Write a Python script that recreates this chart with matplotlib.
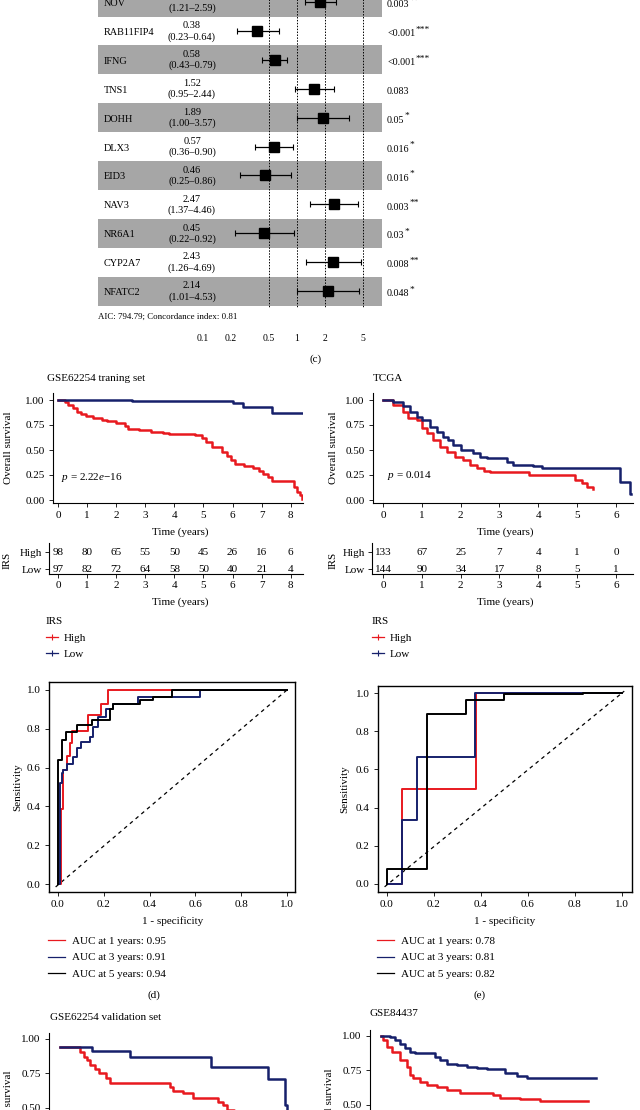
import numpy as np
import matplotlib
matplotlib.use("Agg")
import matplotlib.pyplot as plt
from matplotlib.lines import Line2D

plt.rcParams['font.family'] = ['Liberation Serif', 'DejaVu Serif']
plt.rcParams['font.size'] = 8
plt.rcParams['mathtext.fontset'] = 'custom'
plt.rcParams['mathtext.rm'] = 'Liberation Serif'
plt.rcParams['mathtext.it'] = 'Liberation Serif:italic'

RED = "#E8191F"
NAVY = "#16206B"
BAND = "#a6a6a6"

# (c) multivariate cox forest plot
genes = ["NOV", "RAB11FIP4", "IFNG", "TNS1", "DOHH", "DLX3", "EID3", "NAV3", "NR6A1", "CYP2A7", "NFATC2"]
hr = [1.77, 0.38, 0.58, 1.52, 1.89, 0.57, 0.46, 2.47, 0.45, 2.43, 2.14]
hr_lo = [1.21, 0.23, 0.43, 0.95, 1.00, 0.36, 0.25, 1.37, 0.22, 1.26, 1.01]
hr_hi = [2.59, 0.64, 0.79, 2.44, 3.57, 0.90, 0.86, 4.46, 0.92, 4.69, 4.53]
p_text = ["0.003", "<0.001", "<0.001", "0.083", "0.05", "0.016", "0.016", "0.003", "0.03", "0.008", "0.048"]
p_stars = ["**", "***", "***", "", "*", "*", "*", "**", "*", "**", "*"]
forest_ticks = [0.1, 0.2, 0.5, 1, 2, 5]
ref_lines = [0.5, 1, 2, 5]
aic_text = "AIC: 794.79; Concordance index: 0.81"

# KM: GSE62254 training set
tr_low_t = [0, 2.55, 6.0, 6.37, 7.35, 8.4]
tr_low_s = [1.0, 0.99, 0.967, 0.933, 0.867, 0.867]
tr_high_t = [0, 0.24, 0.35, 0.5, 0.65, 0.8, 0.95, 1.2, 1.5, 1.7, 2.0, 2.3, 2.4, 2.8, 3.2, 3.6, 3.8, 4.7,
             4.95, 5.1, 5.3, 5.65, 5.8, 5.95, 6.1, 6.4, 6.7, 6.9, 7.05, 7.2, 7.35, 8.1, 8.2, 8.3, 8.4]
tr_high_s = [1.0, 0.98, 0.95, 0.92, 0.88, 0.86, 0.84, 0.82, 0.80, 0.79, 0.77, 0.74, 0.71, 0.70, 0.68, 0.67,
             0.66, 0.65, 0.62, 0.58, 0.53, 0.48, 0.44, 0.40, 0.36, 0.34, 0.32, 0.29, 0.26, 0.23, 0.19,
             0.13, 0.08, 0.05, 0.01]
tr_years = [0, 1, 2, 3, 4, 5, 6, 7, 8]
tr_risk_high = [98, 80, 65, 55, 50, 45, 26, 16, 6]
tr_risk_low = [97, 82, 72, 64, 58, 50, 40, 21, 4]

# KM: TCGA
tc_low_t = [0, 0.27, 0.52, 0.70, 0.87, 1.0, 1.21, 1.38, 1.55, 1.68, 1.81, 2.0, 2.33, 2.5, 2.67, 3.19,
            3.36, 3.87, 4.09, 6.11, 6.37, 6.4]
tc_low_s = [1.0, 0.98, 0.94, 0.88, 0.83, 0.80, 0.73, 0.68, 0.63, 0.60, 0.55, 0.50, 0.47, 0.43, 0.42, 0.38,
            0.35, 0.34, 0.32, 0.18, 0.06, 0.06]
tc_high_t = [0, 0.27, 0.52, 0.65, 0.87, 1.0, 1.13, 1.30, 1.47, 1.64, 1.86, 2.07, 2.24, 2.41, 2.59, 2.76,
             3.77, 4.95, 5.12, 5.25, 5.42]
tc_high_s = [1.0, 0.95, 0.88, 0.82, 0.80, 0.72, 0.67, 0.60, 0.53, 0.48, 0.43, 0.40, 0.35, 0.32, 0.29, 0.28,
             0.25, 0.20, 0.17, 0.13, 0.11]
tc_years = [0, 1, 2, 3, 4, 5, 6]
tc_risk_high = [133, 67, 25, 7, 4, 1, 0]
tc_risk_low = [144, 90, 34, 17, 8, 5, 1]

# ROC (d) training
d_fpr_1 = [0, 0.013, 0.013, 0.023, 0.023, 0.038, 0.038, 0.052, 0.052, 0.06, 0.06, 0.13, 0.13, 0.19, 0.19, 0.22, 0.22, 1.0]
d_tpr_1 = [0, 0, 0.385, 0.385, 0.59, 0.59, 0.66, 0.66, 0.725, 0.725, 0.79, 0.79, 0.87, 0.87, 0.93, 0.93, 1.0, 1.0]
d_fpr_3 = [0, 0.009, 0.009, 0.016, 0.016, 0.023, 0.023, 0.038, 0.038, 0.067, 0.067, 0.082, 0.082, 0.10, 0.10,
           0.14, 0.14, 0.155, 0.155, 0.175, 0.175, 0.21, 0.21, 0.24, 0.24, 0.35, 0.35, 0.62, 0.62, 1.0]
d_tpr_3 = [0, 0, 0.52, 0.52, 0.57, 0.57, 0.59, 0.59, 0.62, 0.62, 0.656, 0.656, 0.70, 0.70, 0.73, 0.73, 0.76,
           0.76, 0.81, 0.81, 0.863, 0.863, 0.90, 0.90, 0.93, 0.93, 0.966, 0.966, 1.0, 1.0]
d_fpr_5 = [0, 0, 0.016, 0.016, 0.034, 0.034, 0.082, 0.082, 0.147, 0.147, 0.227, 0.227, 0.242, 0.242, 0.358,
           0.358, 0.416, 0.416, 0.496, 0.496, 1.0]
d_tpr_5 = [0, 0.64, 0.64, 0.74, 0.74, 0.785, 0.785, 0.82, 0.82, 0.845, 0.845, 0.90, 0.90, 0.93, 0.93, 0.95,
           0.95, 0.965, 0.965, 1.0, 1.0]
d_auc = [0.95, 0.91, 0.94]

# ROC (e) TCGA
e_fpr_1 = [0, 0.065, 0.065, 0.38, 0.38, 1.0]
e_tpr_1 = [0, 0, 0.5, 0.5, 1.0, 1.0]
e_fpr_3 = [0, 0.065, 0.065, 0.126, 0.126, 0.375, 0.375, 1.0]
e_tpr_3 = [0, 0, 0.333, 0.333, 0.667, 0.667, 1.0, 1.0]
e_fpr_5 = [0, 0, 0.169, 0.169, 0.335, 0.335, 0.5, 0.5, 0.835, 0.835, 1.0]
e_tpr_5 = [0, 0.077, 0.077, 0.89, 0.89, 0.963, 0.963, 0.993, 0.993, 1.0, 1.0]
e_auc = [0.78, 0.81, 0.82]
auc_years = [1, 3, 5]

# KM: GSE62254 validation set (lower part cut by the page)
va_low_t = [0, 1.15, 2.5, 5.39, 7.44, 8.04, 8.12, 8.2]
va_low_s = [0.944, 0.915, 0.872, 0.80, 0.708, 0.52, 0.46, 0.46]
va_high_t = [0, 0.71, 0.86, 0.98, 1.07, 1.25, 1.40, 1.64, 1.79, 3.93, 4.05, 4.40, 4.76, 5.65, 5.83, 5.95,
             6.2, 6.6, 7.0, 7.5]
va_high_s = [0.944, 0.908, 0.872, 0.848, 0.81, 0.78, 0.75, 0.715, 0.68, 0.65, 0.62, 0.606, 0.575, 0.546,
             0.52, 0.485, 0.45, 0.40, 0.36, 0.30]

# KM: GSE84437
gs_low_t = [0, 0.5, 0.78, 1.06, 1.33, 1.61, 1.89, 3.0, 3.28, 3.65, 4.2, 4.76, 5.31, 5.87, 6.89, 7.54, 8.09, 11.94]
gs_low_s = [1.0, 0.99, 0.97, 0.94, 0.91, 0.886, 0.874, 0.85, 0.826, 0.80, 0.79, 0.778, 0.766, 0.758, 0.734,
            0.71, 0.693, 0.693]
gs_high_t = [0, 0.13, 0.31, 0.59, 1.06, 1.43, 1.61, 1.80, 2.17, 2.54, 3.09, 3.65, 4.39, 6.24, 6.61, 7.72,
             8.83, 11.52]
gs_high_s = [1.0, 0.97, 0.923, 0.886, 0.826, 0.778, 0.717, 0.693, 0.669, 0.645, 0.633, 0.609, 0.589, 0.572,
             0.548, 0.541, 0.531, 0.531]

surv_ticks = [0, 0.25, 0.5, 0.75, 1.0]
roc_ticks = [0, 0.2, 0.4, 0.6, 0.8, 1.0]

W, H = 640, 1110
fig = plt.figure(figsize=(W / 100, H / 100), dpi=100)


def px_rect(l, t, r, b):
    return [l / W, 1 - b / H, (r - l) / W, (b - t) / H]


def ftext(x, y, s, **kw):
    kw.setdefault('ha', 'center')
    kw.setdefault('va', 'center')
    return fig.text(x / W, 1 - y / H, s, **kw)


# ---------------- forest ----------------
row0, rowh = 2.1, 28.9
axf = fig.add_axes(px_rect(0, 0, 640, 330))
axf.set_xscale('log')
axf.set_xlim(np.exp(-297 / 41.1), np.exp(343 / 41.1))
axf.set_ylim((330 - row0) / rowh, -row0 / rowh)
for s in axf.spines.values():
    s.set_visible(False)
axf.set_yticks([])
axf.set_xticks(forest_ticks)
axf.set_xticklabels([f"{v:g}" for v in forest_ticks])
axf.minorticks_off()
axf.tick_params(axis='x', length=0, pad=3, labelsize=7)
rows = np.arange(len(genes))
for i in rows[::2]:
    axf.axhspan(i - 0.5, i + 0.5, xmin=98 / W, xmax=382 / W, color=BAND, lw=0, zorder=0)
axf.vlines(ref_lines, -1, (307 - row0) / rowh, colors='black', linestyles=(0, (1.5, 1.5)), lw=0.7, zorder=1)
hr_a, lo_a, hi_a = np.array(hr), np.array(hr_lo), np.array(hr_hi)
axf.errorbar(hr_a, rows, xerr=[hr_a - lo_a, hi_a - hr_a], fmt='s', color='black', ms=6.5,
             elinewidth=0.9, capsize=2, capthick=0.8, zorder=3)
tr = axf.get_yaxis_transform()
for i, g in enumerate(genes):
    axf.text(104 / W, i + 0.05, g, transform=tr, ha='left', va='center', fontsize=7.4)
    axf.text(192 / W, i - 0.18, f"{hr[i]:.2f}", transform=tr, ha='center', va='center', fontsize=7.4)
    axf.text(192 / W, i + 0.2, f"({hr_lo[i]:.2f}–{hr_hi[i]:.2f})", transform=tr, ha='center',
             va='center', fontsize=7.4)
    pt = axf.text(387 / W, i + 0.09, p_text[i], transform=tr, ha='left', va='center', fontsize=7.2)
    if p_stars[i]:
        axf.annotate(p_stars[i], xy=(1.0, 0.95), xycoords=pt, ha='left', va='center', fontsize=6.8)
axf.text(98 / W, (317 - row0) / rowh, aic_text, transform=tr, ha='left', va='center', fontsize=6.4)
ftext(316, 359, "(c)")


# ---------------- KM panels ----------------
def km_axes(rect, xlim, ylim, xticks):
    ax = fig.add_axes(px_rect(*rect))
    ax.set_xlim(xlim)
    ax.set_ylim(ylim)
    ax.spines[['top', 'right']].set_visible(False)
    for s in ax.spines.values():
        s.set_linewidth(0.8)
    ax.set_xticks(xticks)
    ax.set_yticks(surv_ticks)
    ax.set_yticklabels([f"{v:.2f}" for v in surv_ticks])
    ax.tick_params(length=3, width=0.6, pad=3, labelsize=8)
    return ax


def risk_axes(rect, xlim, years, high, low):
    ax = fig.add_axes(px_rect(*rect))
    ax.set_xlim(xlim)
    ax.set_ylim(-0.294, 1.53)
    ax.spines[['top', 'right']].set_visible(False)
    for s in ax.spines.values():
        s.set_linewidth(0.8)
    ax.set_xticks(years)
    ax.set_yticks([1, 0])
    ax.set_yticklabels(["High", "Low"])
    ax.tick_params(length=3, width=0.6, pad=2, labelsize=8)
    for t, a, b in zip(years, high, low):
        ax.text(t, 1, str(a), ha='center', va='center', fontsize=8)
        ax.text(t, 0, str(b), ha='center', va='center', fontsize=8)
    return ax


def km_legend(ax, x, y):
    h = [Line2D([], [], color=RED, lw=0.9, marker='+', ms=5, mew=0.8),
         Line2D([], [], color=NAVY, lw=0.9, marker='+', ms=5, mew=0.8)]
    ax.legend(h, ["High", "Low"], title="IRS", loc='upper left', bbox_to_anchor=(x / W, 1 - y / H),
              bbox_transform=fig.transFigure, frameon=False, borderpad=0, borderaxespad=0,
              handlelength=1.05, handletextpad=0.55, labelspacing=0.62, fontsize=8,
              title_fontsize=8, alignment='left')


# training set
ax1 = km_axes((53, 393, 303, 503), (-0.172, 8.42), (-0.03, 1.07), tr_years)
ax1.step(tr_high_t, tr_high_s, where='post', color=RED, lw=1.8)
ax1.step(tr_low_t, tr_low_s, where='post', color=NAVY, lw=1.8)
ax1.text(0.1, 0.22, r"$p$ = 2.22$e$−16", ha='left', va='center', fontsize=8)
ftext(47, 378, "GSE62254 traning set", ha='left')
ftext(9, 448, "Overall survival", rotation=90)
ftext(180, 532, "Time (years)")
r1 = risk_axes((49, 543, 303, 574), (-0.309, 8.42), tr_years, tr_risk_high, tr_risk_low)
ftext(7, 560, "IRS", rotation=90)
ftext(180, 602, "Time (years)")
km_legend(r1, 46, 617)

# TCGA
ax2 = km_axes((373, 393, 633, 503), (-0.258, 6.44), (-0.03, 1.07), tc_years)
ax2.step(tc_high_t, tc_high_s, where='post', color=RED, lw=1.8)
ax2.step(tc_low_t, tc_low_s, where='post', color=NAVY, lw=1.8)
ax2.text(0.1, 0.24, r"$p$ = 0.014", ha='left', va='center', fontsize=8)
ftext(373, 378, "TCGA", ha='left')
ftext(333, 448, "Overall survival", rotation=90)
ftext(505, 532, "Time (years)")
r2 = risk_axes((372, 543, 633, 574), (-0.284, 6.44), tc_years, tc_risk_high, tc_risk_low)
ftext(333, 560, "IRS", rotation=90)
ftext(505, 602, "Time (years)")
km_legend(r2, 372, 617)


# ---------------- ROC panels ----------------
def roc_axes(rect, xlim, ylim, curves, aucs, leg_x):
    ax = fig.add_axes(px_rect(*rect))
    ax.set_xlim(xlim)
    ax.set_ylim(ylim)
    for s in ax.spines.values():
        s.set_linewidth(1.0)
    ax.set_xticks(roc_ticks)
    ax.set_yticks(roc_ticks)
    ax.set_xticklabels([f"{v:.1f}" for v in roc_ticks])
    ax.set_yticklabels([f"{v:.1f}" for v in roc_ticks])
    ax.tick_params(length=3, width=0.6, pad=3, labelsize=8)
    ax.plot([-0.01, 1.01], [-0.015, 1.01], color='black', lw=0.9, ls=(0, (3, 3)))
    handles = []
    for (f, t), c in zip(curves, [RED, NAVY, "black"]):
        ax.plot(f, t, color=c, lw=1.4)
        handles.append(Line2D([], [], color=c, lw=0.9))
    labels = [f"AUC at {y} years: {a:.2f}" for y, a in zip(auc_years, aucs)]
    ax.legend(handles, labels, loc='upper left', bbox_to_anchor=(leg_x / W, 1 - 936 / H),
              bbox_transform=fig.transFigure, frameon=False, borderpad=0, borderaxespad=0,
              handlelength=1.5, handletextpad=0.65, labelspacing=0.62, fontsize=8)
    return ax


roc_axes((49, 682, 295, 892), (-0.039, 1.035), (-0.041, 1.041),
         [(d_fpr_1, d_tpr_1), (d_fpr_3, d_tpr_3), (d_fpr_5, d_tpr_5)], d_auc, 48)
ftext(18, 787, "Sensitivity", rotation=90)
ftext(173, 921, "1 - specificity")
ftext(154, 995, "(d)")

roc_axes((378, 686, 632, 892), (-0.038, 1.043), (-0.042, 1.037),
         [(e_fpr_1, e_tpr_1), (e_fpr_3, e_tpr_3), (e_fpr_5, e_tpr_5)], e_auc, 377)
ftext(345, 789, "Sensitivity", rotation=90)
ftext(505, 921, "1 - specificity")
ftext(480, 995, "(e)")

# ---------------- lower KM panels (cut off) ----------------
ax3 = km_axes((49, 1033, 303, 1182), (-0.39, 8.68), (-0.036, 1.043), tr_years)
ax3.step(va_high_t, va_high_s, where='post', color=RED, lw=1.8)
ax3.step(va_low_t, va_low_s, where='post', color=NAVY, lw=1.8)
ftext(50, 1018, "GSE62254 validation set", ha='left')
ftext(9, 1107, "Overall survival", rotation=90)

ax4 = km_axes((370, 1030, 633, 1180), (-0.61, 14.0), (-0.043, 1.043), [0, 3, 6, 9, 12])
ax4.step(gs_high_t, gs_high_s, where='post', color=RED, lw=1.8)
ax4.step(gs_low_t, gs_low_s, where='post', color=NAVY, lw=1.8)
ftext(369, 1014, "GSE84437", ha='left')
ftext(330, 1105, "Overall survival", rotation=90)

fig.savefig("out.png", dpi=100)
